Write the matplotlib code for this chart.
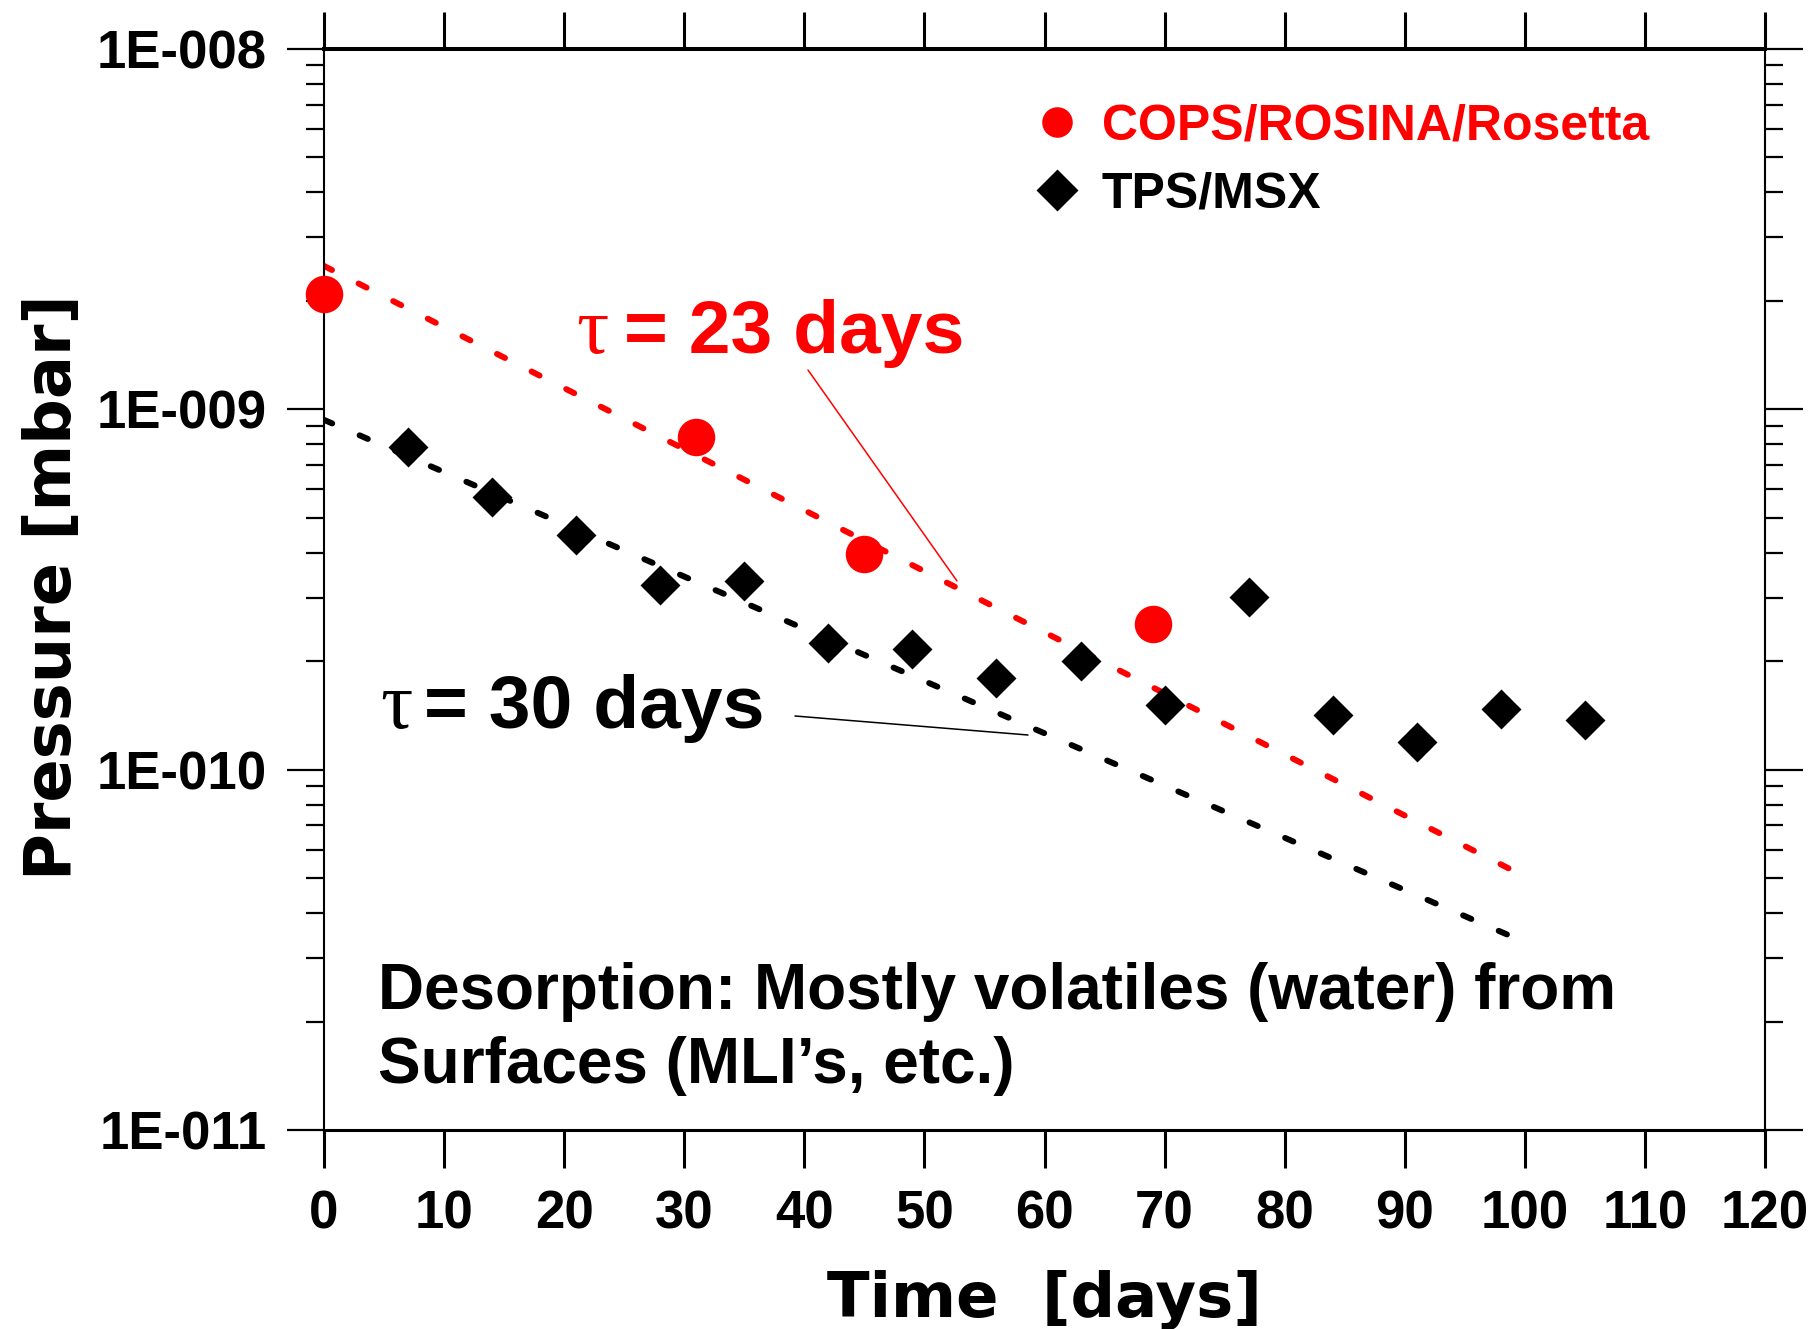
import numpy as np
import matplotlib
matplotlib.use('Agg')
import matplotlib.pyplot as plt
from matplotlib.lines import Line2D
from matplotlib.ticker import FixedLocator, FixedFormatter, LogLocator, NullFormatter, NullLocator

# ---------------- data ----------------
cops_days = [0, 31, 45, 69]
cops_pressure = [2.09e-9, 8.4e-10, 3.98e-10, 2.54e-10]

tps_days = [7, 14, 21, 28, 35, 42, 49, 56, 63, 70, 77, 84, 91, 98, 105]
tps_pressure = [7.85e-10, 5.7e-10, 4.48e-10, 3.25e-10, 3.33e-10, 2.25e-10, 2.16e-10,
                1.80e-10, 2.0e-10, 1.51e-10, 3.01e-10, 1.42e-10, 1.19e-10, 1.47e-10, 1.37e-10]

fit_days = [0, 100]
cops_fit = [2.5e-9, 5.05e-11]
tps_fit = [9.35e-10, 3.32e-11]

x_ticks = [0, 10, 20, 30, 40, 50, 60, 70, 80, 90, 100, 110, 120]
x_tick_labels = [str(v) for v in x_ticks]
y_ticks = [1e-11, 1e-10, 1e-9, 1e-8]
y_tick_labels = ['1E-011', '1E-010', '1E-009', '1E-008']
legend_labels = ['COPS/ROSINA/Rosetta', 'TPS/MSX']

# ---------------- figure ----------------
plt.rcParams['font.family'] = ['Liberation Sans', 'DejaVu Sans']
plt.rcParams['font.weight'] = 'bold'

W, H = 1812, 1329
fig = plt.figure(figsize=(W / 100, H / 100), dpi=100)
L, R, T, B = 324, 1765, 49, 1130
ax = fig.add_axes([L / W, 1 - B / H, (R - L) / W, (B - T) / H])
ax.set_yscale('log')
ax.set_xlim(0, 120)
ax.set_ylim(1e-11, 1e-8)

dash = (0, (1.5, 5))
ax.plot(fit_days, cops_fit, color='red', lw=4.3, linestyle=dash,
        dash_capstyle='round', zorder=2)
ax.plot(fit_days, tps_fit, color='black', lw=4.3, linestyle=dash,
        dash_capstyle='round', zorder=2)
ax.plot(cops_days, cops_pressure, linestyle='none', marker='o', color='red',
        ms=27, mec='none', clip_on=False, zorder=4)
ax.plot(tps_days, tps_pressure, linestyle='none', marker='D', color='black',
        ms=20, mec='none', clip_on=False, zorder=3)

# ticks
ax.xaxis.set_major_locator(FixedLocator(x_ticks))
ax.xaxis.set_major_formatter(FixedFormatter(x_tick_labels))
ax.xaxis.set_minor_locator(NullLocator())
ax.yaxis.set_major_locator(FixedLocator(y_ticks))
ax.yaxis.set_major_formatter(FixedFormatter(y_tick_labels))
ax.yaxis.set_minor_locator(LogLocator(base=10, subs=np.arange(2, 10)))
ax.yaxis.set_minor_formatter(NullFormatter())

ax.tick_params(axis='x', which='major', direction='out', length=27, width=2.2,
               top=True, bottom=True, labeltop=False, labelsize=38, pad=16)
ax.tick_params(axis='y', which='major', direction='out', length=27, width=1.6,
               left=True, right=True, labelsize=38, pad=14)
ax.tick_params(axis='y', which='minor', direction='out', length=13, width=1.6,
               left=True, right=True)
for lab in ax.get_xticklabels() + ax.get_yticklabels():
    lab.set_fontweight('bold')

ax.spines['top'].set_linewidth(2.9)
ax.spines['bottom'].set_linewidth(2.2)
ax.spines['left'].set_linewidth(1.5)
ax.spines['right'].set_linewidth(1.5)

# axis labels
ax.set_xlabel('Time  [days]', fontsize=45, family='DejaVu Sans', fontweight='bold')
ax.xaxis.label.set_va('baseline')
ax.xaxis.set_label_coords(0.5, (B - 1317) / (B - T))
ax.set_ylabel('Pressure [mbar]', fontsize=46, family='DejaVu Sans', fontweight='bold')
ax.yaxis.label.set_va('center')
ax.yaxis.set_label_coords((53 - L) / (R - L), (B - 587) / (B - T))

# legend
handles = [Line2D([], [], linestyle='none', marker='o', color='red', ms=22, mec='none'),
           Line2D([], [], linestyle='none', marker='D', color='black', ms=21, mec='none')]
ax.legend(handles, legend_labels, loc='center left',
          bbox_to_anchor=((1032 - L) / (R - L), (B - 160.5) / (B - T)),
          frameon=False, prop={'size': 36, 'weight': 'bold'}, borderpad=0,
          borderaxespad=0, handlelength=1.0, handletextpad=0.4, labelspacing=0.44,
          labelcolor=['red', 'black'])

def afx(px):
    return (px - L) / (R - L)

def afy(py):
    return (B - py) / (B - T)

# annotations
def tau_label(x_tau, x_eq, y_base, text, color):
    ax.text(afx(x_tau), afy(y_base), '\u03c4', transform=ax.transAxes, color=color,
            fontsize=58, fontweight='normal', family=['Liberation Serif', 'DejaVu Serif'],
            ha='left', va='baseline')
    ax.text(afx(x_eq), afy(y_base), text, transform=ax.transAxes, color=color,
            fontsize=54, fontweight='bold', ha='left', va='baseline')

tau_label(576, 624, 353, '= 23 days', 'red')
ax.annotate('', xy=(afx(957), afy(581)), xytext=(afx(808), afy(370)),
            xycoords='axes fraction',
            arrowprops=dict(arrowstyle='-', color='red', lw=1.1, shrinkA=0, shrinkB=0))
tau_label(380, 424, 728, '= 30 days', 'black')
ax.annotate('', xy=(afx(1028), afy(735)), xytext=(afx(795), afy(716)),
            xycoords='axes fraction',
            arrowprops=dict(arrowstyle='-', color='black', lw=1.1, shrinkA=0, shrinkB=0))

ax.text(afx(378), afy(1009), 'Desorption: Mostly volatiles (water) from',
        transform=ax.transAxes, fontsize=46, fontweight='bold', ha='left', va='baseline')
ax.text(afx(378), afy(1083), 'Surfaces (MLI\u2019s, etc.)',
        transform=ax.transAxes, fontsize=46, fontweight='bold', ha='left', va='baseline')

fig.savefig('out.png', dpi=100)
